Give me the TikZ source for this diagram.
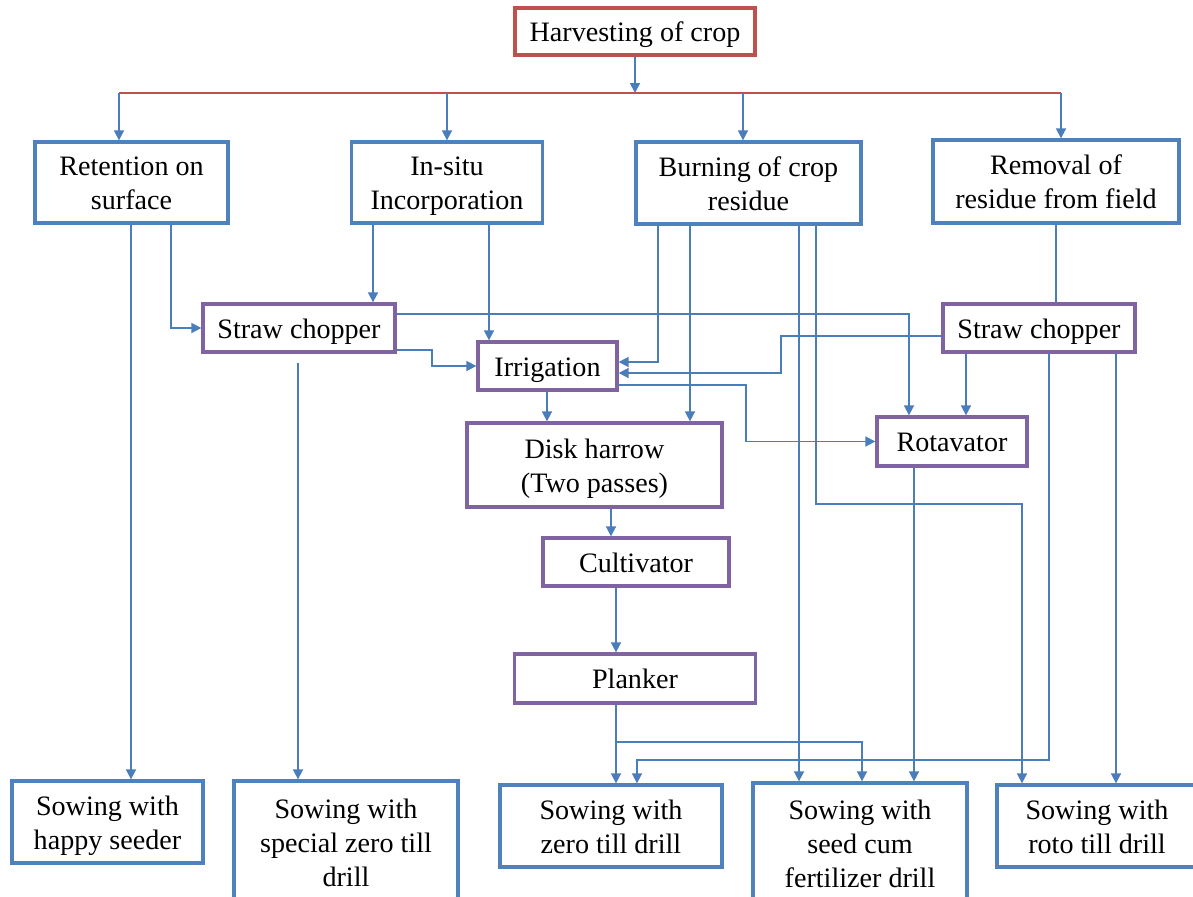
\documentclass[tikz,border=0pt]{standalone}
\usepackage{fontspec}
\setmainfont{Liberation Serif}
\usepackage{tikz}
\usetikzlibrary{arrows.meta,positioning,calc}

\definecolor{boxblue}{HTML}{4F81BD}
\definecolor{boxred}{HTML}{C0504D}
\definecolor{boxpurple}{HTML}{8064A2}
\definecolor{lineblue}{HTML}{4A7EBB}

% struts for the first and the last line of a box
\newcommand{\sth}{\rule{0pt}{15.5pt}}
\newcommand{\std}{\rule[-4pt]{0pt}{4pt}}

\begin{document}
\begin{tikzpicture}[x=0.02cm, y=-0.02cm]
	\tikzstyle{Box}		= [rectangle, draw, line width=1.9pt, fill=white, align=center, inner sep=0pt, font=\fontsize{16}{19.3}\selectfont]
	\tikzstyle{Top}		= [draw=boxred]
	\tikzstyle{Stage}	= [draw=boxblue]
	\tikzstyle{Tool}	= [draw=boxpurple]
	\tikzstyle{Link}	= [lineblue, line width=1pt]
	\tikzstyle{Arr}		= [Link, -{Triangle[length=2mm, width=2mm]}]
	\tikzstyle{Bar}		= [boxred, line width=0.8pt]

	\useasboundingbox (0,0) rectangle (1193,896);
	\clip (0,0) rectangle (1193,896);

	% boxes
	\foreach \n/\x/\y/\w/\h/\s/\txt in {
		harv/635/31.5/240/47/Top/{Harvesting of crop},
		ret/131.5/182.5/193/81/Stage/{Retention on\\surface},
		insitu/447/182.5/191/81/Stage/{In-situ\\Incorporation},
		burn/748.5/183/225/82/Stage/{Burning of crop\\residue},
		remov/1056/181.5/246/83/Stage/{Removal of\\residue from field},
		chL/299/328/192/48/Tool/{Straw chopper},
		chR/1039/328/192/48/Tool/{Straw chopper},
		irr/547.5/366/139/48/Tool/{Irrigation},
		rot/952/441.5/150/49/Tool/{Rotavator},
		disk/594.5/465/255/84/Tool/{Disk harrow\\(Two passes)},
		cult/636/562/186/48/Tool/{Cultivator},
		plank/635/678.5/241/49/Tool/{Planker},
		happy/107.5/822/191/82/Stage/{Sowing with\\happy seeder},
		special/346/842/224/122/Stage/{Sowing with\\special zero till\\drill},
		zero/611/826/222/82/Stage/{Sowing with\\zero till drill},
		seed/860/843/214/120/Stage/{Sowing with\\seed cum\\fertilizer drill},
		roto/1097/826/200/82/Stage/{Sowing with\\roto till drill}}
		\node (\n) at (\x,\y) [Box, \s, minimum width={\w*0.02cm}, minimum height={\h*0.02cm}] {\sth\txt\std};

	% harvesting to the four options
	\coordinate (hb) at (635,93);
	\coordinate (bL) at (119,93);
	\coordinate (bR) at (1061,93);
	\draw [Arr] (harv.south) -- (hb);
	\draw [Bar] (bL) -- (bR);
	\foreach \n/\x in {ret/119, insitu/447, burn/743, remov/1061}
		\draw [Arr] (\x,93) -- (\x,0 |- \n.north);

	% straight drops
	\foreach \x/\a/\b in {131/ret/happy, 373/insitu/chL, 489/insitu/irr, 690/burn/disk, 799/burn/seed, 966/chR/rot, 1116/chR/roto, 914/rot/seed, 547/irr/disk, 611/disk/cult, 616/cult/plank, 616/plank/zero}
		\draw [Arr] (\x,0 |- \a.south) -- (\x,0 |- \b.north);
	\draw [Link] (remov.south) -- (remov.south |- chR.north);
	\draw [Arr] (298,363) -- (298,0 |- special.north);

	% bent connectors
	\draw [Arr] (171,0 |- ret.south) |- (chL.west);
	\draw [Arr] (chL.east |- 0,314) -| (909,0 |- rot.north);
	\draw [Arr] (chL.east |- 0,350) -- (432,350) |- (irr.west);
	\draw [Arr] (658,0 |- burn.south) |- (irr.east |- 0,362);
	\draw [Arr] (chR.west |- 0,336) -- (781,336) |- (irr.east |- 0,373);
	\draw [Arr] (irr.east |- 0,385) -- (746,385) |- (rot.west);
	\draw [Arr] (816,0 |- burn.south) -- (816,504) -| (1022,0 |- roto.north);
	\draw [Arr] (1049,0 |- chR.south) -- (1049,760) -| (637,0 |- zero.north);
	\draw [Arr] (616,742) -| (862,0 |- seed.north);
\end{tikzpicture}
\end{document}
